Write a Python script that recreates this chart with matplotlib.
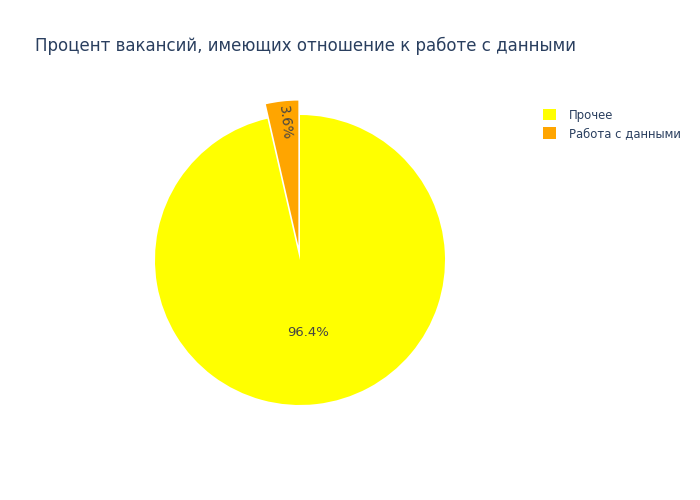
import numpy as np
import matplotlib
matplotlib.use("Agg")
import matplotlib.pyplot as plt

# --- Данные ---
labels = ["Прочее", "Работа с данными"]
values = [96.4, 3.6]
colors = ["#FFFF00", "#FFA500"]
pull = [0, 0.1]

plt.rcParams["font.family"] = ["DejaVu Sans"]

fig = plt.figure(figsize=(7, 5), dpi=100)
# квадратная область вокруг центра пирога (300, 260) px, радиус 145 px
L = 200
R = 145
ax = fig.add_axes([(300 - L) / 700, (240 - L) / 500, 2 * L / 700, 2 * L / 500])

wedges, _ = ax.pie(
    values,
    colors=colors,
    explode=pull,
    startangle=90,
    counterclock=False,
    radius=1,
    wedgeprops=dict(linewidth=0),
)
# pie() сбрасывает пределы, поэтому задаём их после
ax.set_xlim(-L / R, L / R)
ax.set_ylim(-L / R, L / R)
ax.set_aspect("equal")
ax.axis("off")

# --- Подписи процентов ---
for i, w in enumerate(wedges):
    mid = np.deg2rad((w.theta1 + w.theta2) / 2)
    cx, cy = w.center
    pct = f"{values[i] / sum(values) * 100:.1f}%"
    if values[i] / sum(values) > 0.5:
        d = 0.5
        ax.text(cx + d * np.cos(mid), cy + d * np.sin(mid), pct,
                ha="center", va="center", fontsize=9.5, color="#444444")
    else:
        d = 0.85
        rot = np.rad2deg(mid) - 180
        ax.text(cx + d * np.cos(mid), cy + d * np.sin(mid), pct,
                ha="center", va="center", fontsize=9.8, color="#444444",
                rotation=rot, rotation_mode="anchor")

fig.text(35 / 700, 1 - 46 / 500, "Процент вакансий, имеющих отношение к работе с данными",
         fontsize=12.0, color="#2a3f5f", ha="left", va="center")

leg = fig.legend(
    wedges, labels,
    loc="upper left",
    bbox_to_anchor=(538 / 700, 1 - 104 / 500),
    frameon=False,
    fontsize=8.4,
    handlelength=1.1,
    handleheight=1.1,
    handletextpad=1.15,
    labelspacing=0.45,
    borderaxespad=0,
)
for t in leg.get_texts():
    t.set_color("#2a3f5f")

plt.savefig("out.png", dpi=100)
plt.close()
